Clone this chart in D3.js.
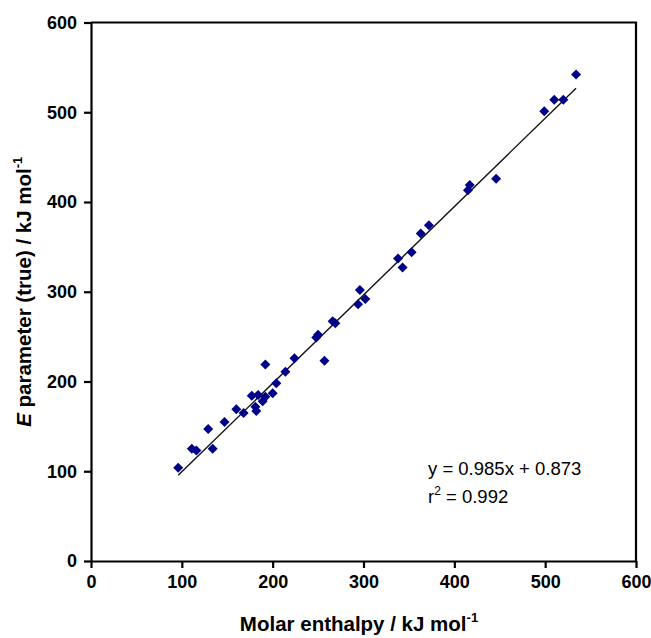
<!DOCTYPE html>
<html lang="en">
<head>
    <meta charset="UTF-8">
    <title>E parameter vs molar enthalpy</title>
    <script src="https://d3js.org/d3.v7.min.js"></script>
    <style>
        body {
            margin: 0;
            background: #fff;
            font-family: "Liberation Sans", Arial, sans-serif;
        }
        .axis text {
            font-family: "Liberation Sans", Arial, sans-serif;
            font-size: 18px;
            font-weight: bold;
            fill: #000;
        }
        .axis path, .axis line {
            stroke: #000;
            stroke-width: 2.2px;
        }
    </style>
</head>
<body>
    <div id="chart"></div>

    <script>
        // Molar enthalpy (x) and true E parameter (y)
        const enthalpy = [96, 111, 116, 129, 134, 147, 160, 168, 177, 181, 182, 184, 189, 192, 200, 204,
                          192, 214, 224, 257, 248, 250, 266, 269, 296, 294, 302, 338, 343, 353, 363, 372,
                          415, 417, 446, 499, 510, 520, 534];
        const eTrue    = [104, 125, 123, 147, 125, 155, 169, 165, 184, 172, 167, 185, 178, 183, 187, 198,
                          219, 211, 226, 223, 249, 252, 267, 265, 302, 286, 292, 337, 327, 344, 365, 374,
                          413, 419, 426, 501, 514, 514, 542];
        const tickValues = [0, 100, 200, 300, 400, 500, 600];
        const fit = { slope: 0.985, intercept: 0.873, xMin: 96, xMax: 534 };

        const width = 651, height = 638;
        const margin = { top: 22.5, right: 15, bottom: 77, left: 91 };

        const svg = d3.select("#chart")
            .append("svg")
            .attr("width", width)
            .attr("height", height);

        const x = d3.scaleLinear().domain([0, 600]).range([margin.left, width - margin.right]);
        const y = d3.scaleLinear().domain([0, 600]).range([height - margin.bottom, margin.top]);

        // frame (top and right)
        svg.append("path")
            .attr("d", `M${x(0)},${y(600)}H${x(600)}V${y(0)}`)
            .attr("fill", "none")
            .attr("stroke", "#000")
            .attr("stroke-width", 2.2);

        // axes
        svg.append("g")
            .attr("class", "axis")
            .attr("transform", `translate(0,${y(0)})`)
            .call(d3.axisBottom(x).tickValues(tickValues).tickSize(7).tickSizeOuter(0).tickPadding(7));

        svg.append("g")
            .attr("class", "axis")
            .attr("transform", `translate(${x(0)},0)`)
            .call(d3.axisLeft(y).tickValues(tickValues).tickSize(7).tickSizeOuter(0).tickPadding(7));

        // regression line
        svg.append("line")
            .attr("x1", x(fit.xMin))
            .attr("y1", y(fit.slope * fit.xMin + fit.intercept))
            .attr("x2", x(fit.xMax))
            .attr("y2", y(fit.slope * fit.xMax + fit.intercept))
            .attr("stroke", "#111")
            .attr("stroke-width", 1.4);

        // points as diamonds
        const diamond = d3.symbol().type(d3.symbolSquare).size(50);
        svg.append("g")
            .selectAll("path")
            .data(d3.zip(enthalpy, eTrue))
            .join("path")
            .attr("d", diamond)
            .attr("transform", d => `translate(${x(d[0])},${y(d[1])}) rotate(45)`)
            .attr("fill", "#000088");

        // equation
        const eq = svg.append("g")
            .attr("font-family", "'Liberation Sans', Arial, sans-serif")
            .attr("font-size", 18.5)
            .attr("fill", "#000");
        eq.append("text")
            .attr("x", 428)
            .attr("y", 475)
            .text("y = 0.985x + 0.873");
        const r2 = eq.append("text")
            .attr("x", 428)
            .attr("y", 503);
        r2.append("tspan").text("r");
        r2.append("tspan").attr("font-size", 12).attr("dy", -8).text("2");
        r2.append("tspan").attr("dy", 8).text(" = 0.992");

        // x axis title
        const xt = svg.append("text")
            .attr("x", 359)
            .attr("y", 631)
            .attr("text-anchor", "middle")
            .attr("font-size", 20.5)
            .attr("font-weight", "bold");
        xt.append("tspan").text("Molar enthalpy / kJ mol");
        xt.append("tspan").attr("font-size", 13).attr("dy", -9).text("-1");

        // y axis title
        const yt = svg.append("text")
            .attr("transform", `translate(31,${(y(0) + y(600)) / 2}) rotate(-90)`)
            .attr("text-anchor", "middle")
            .attr("font-size", 20.5)
            .attr("font-weight", "bold");
        yt.append("tspan").attr("font-style", "italic").text("E");
        yt.append("tspan").text(" parameter (true) / kJ mol");
        yt.append("tspan").attr("font-size", 13).attr("dy", -9).text("-1");
    </script>
</body>
</html>
